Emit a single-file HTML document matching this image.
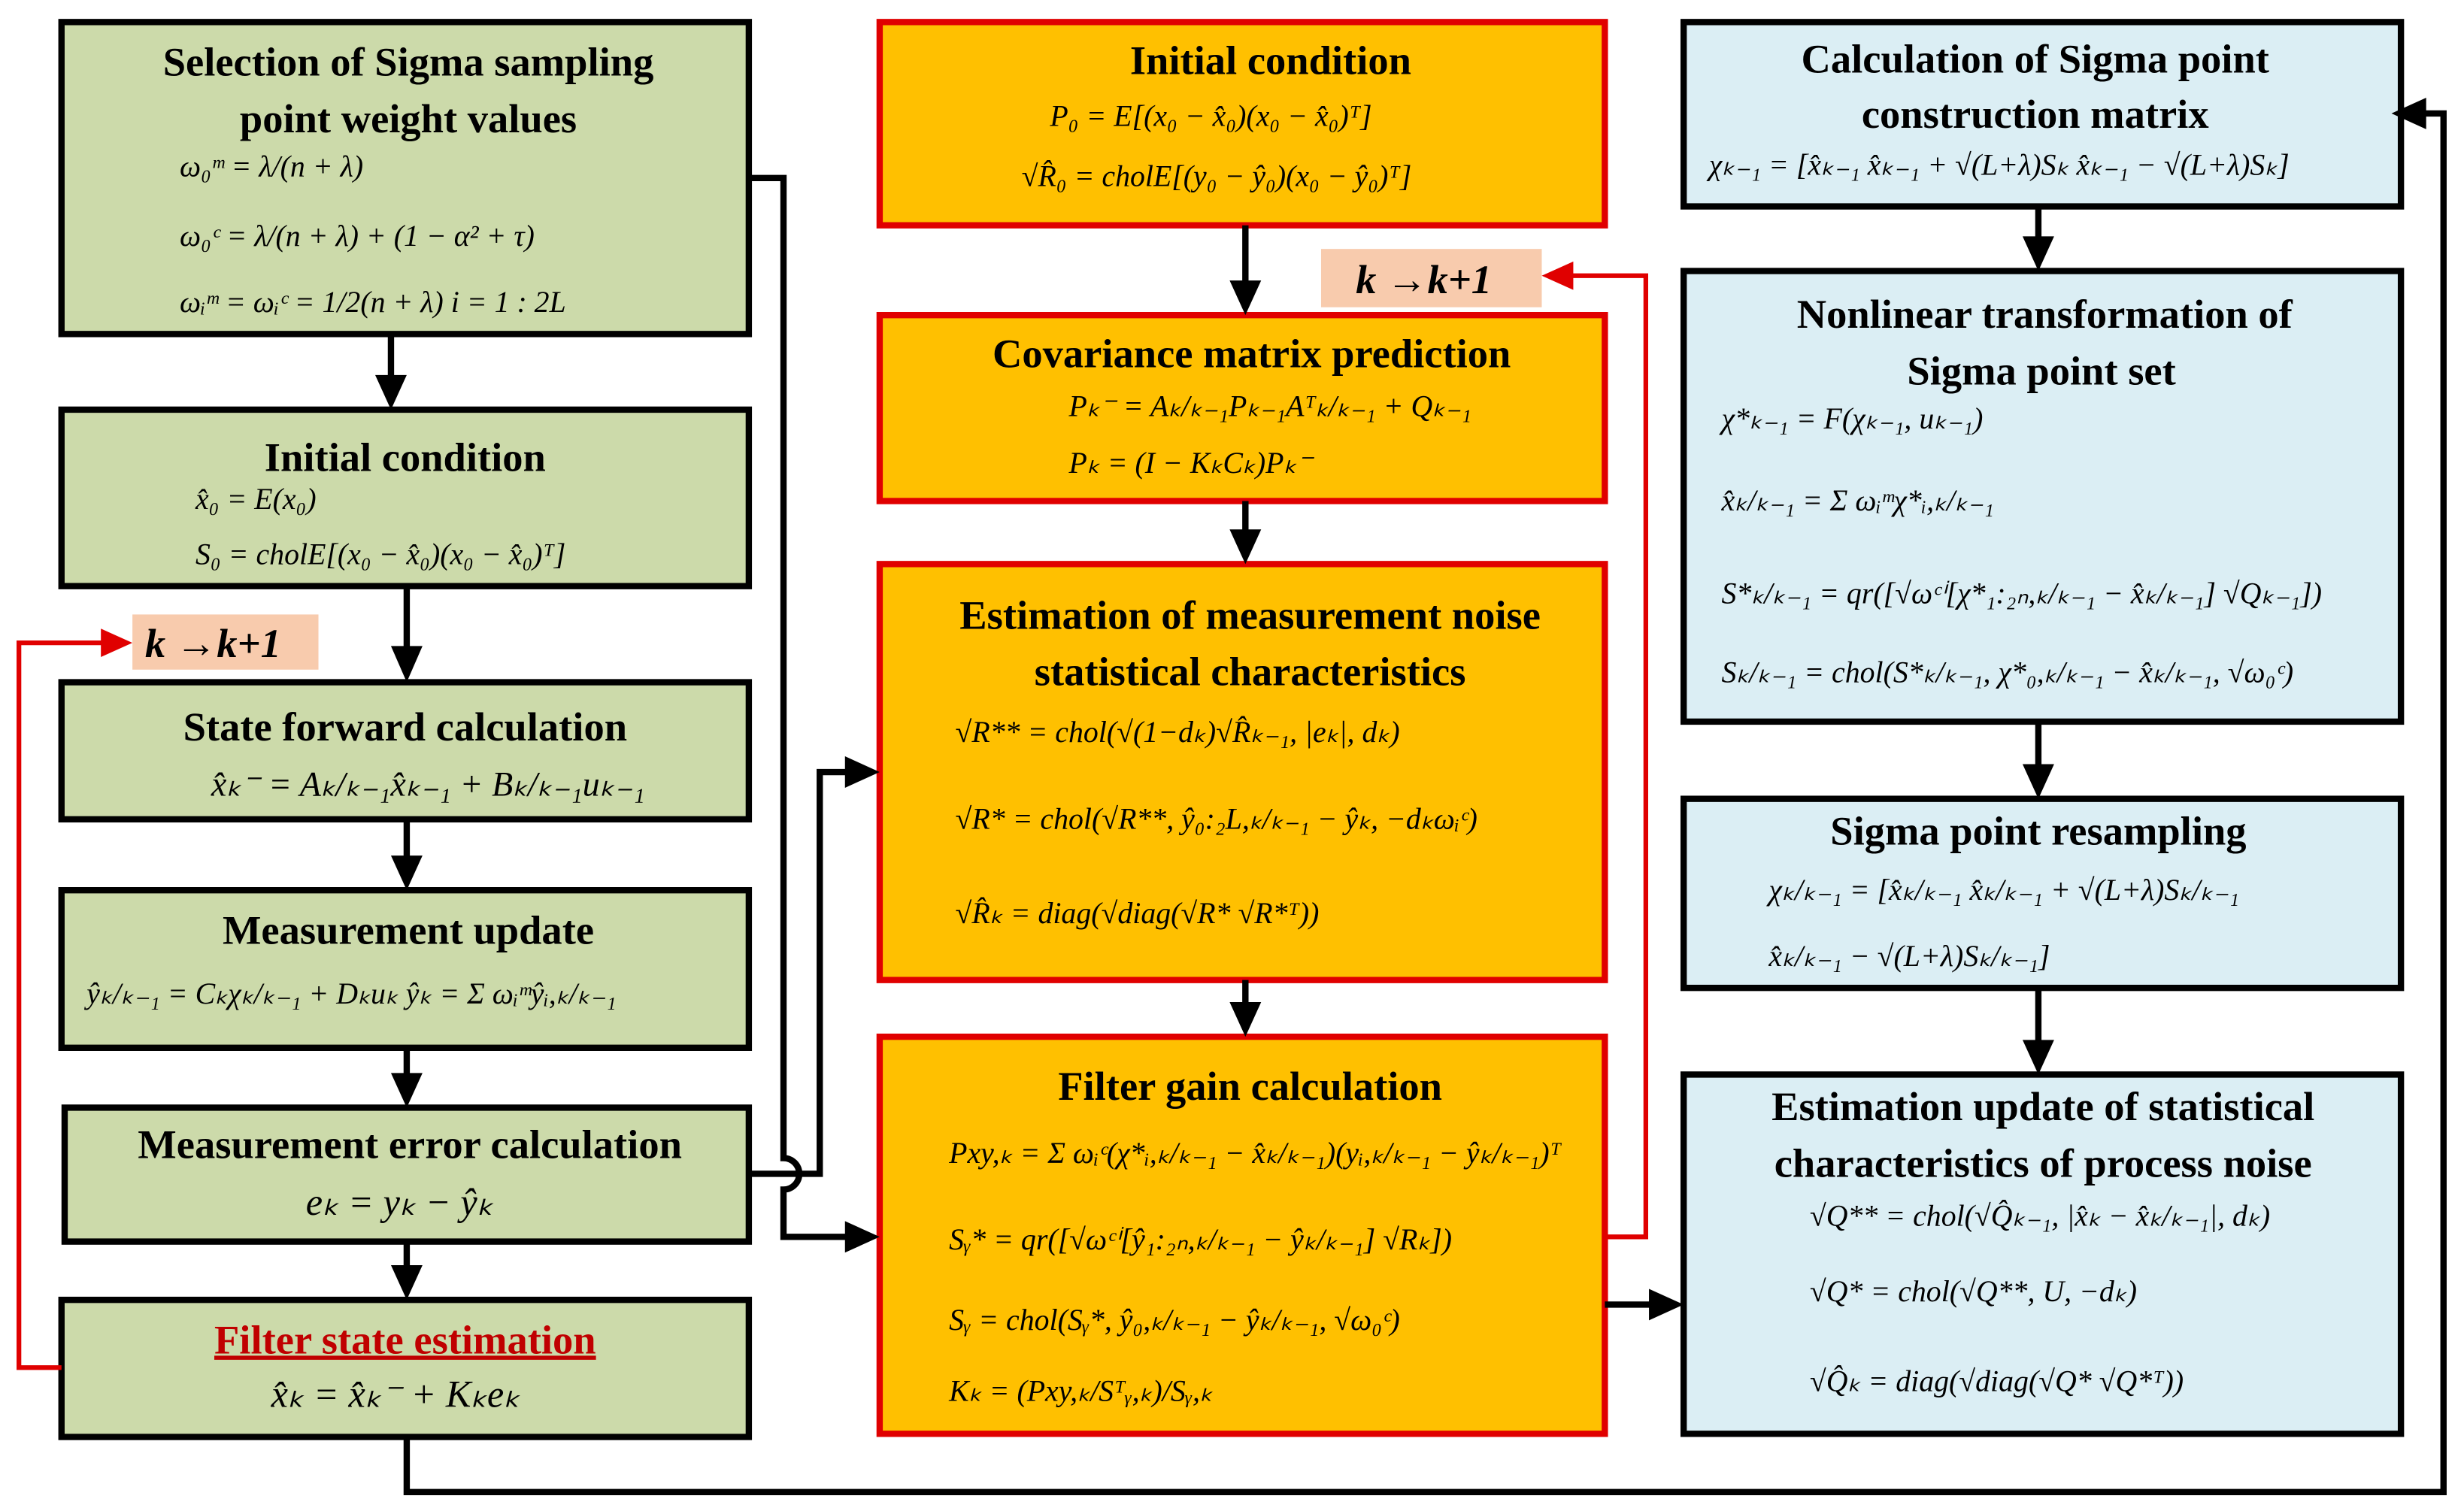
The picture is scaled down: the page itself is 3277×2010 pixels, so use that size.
<!DOCTYPE html>
<html><head><meta charset="utf-8"><style>
html,body{margin:0;padding:0;background:#fff;}
svg{display:block;}
.t{font-family:"Liberation Serif",serif;font-weight:bold;font-size:26px;text-anchor:middle;fill:#000;}
.f{font-family:"Liberation Serif",serif;font-style:italic;font-size:19px;fill:#000;}
.k{font-family:"Liberation Serif",serif;font-style:italic;font-weight:bold;font-size:26px;fill:#000;}
</style></head><body>
<svg width="3277" height="2010" viewBox="0 0 1563 959" preserveAspectRatio="none" xmlns="http://www.w3.org/2000/svg">
<defs>
<marker id="a" markerWidth="8" markerHeight="8" refX="7" refY="4" orient="auto" markerUnits="userSpaceOnUse"><path d="M0,0 L0,0"/></marker>
</defs>
<rect width="1563" height="959" fill="#fff"/>
<g stroke="#000" stroke-width="4" fill="#CCDAAA">
<rect x="39" y="14" width="436" height="198"/>
<rect x="39" y="260" width="436" height="112"/>
<rect x="39" y="433" width="436" height="87"/>
<rect x="39" y="565" width="436" height="100"/>
<rect x="41" y="703" width="434" height="85"/>
<rect x="39" y="825" width="436" height="87"/>
</g>
<g stroke="#E00000" stroke-width="4" fill="#FFC000">
<rect x="558" y="14" width="460" height="129"/>
<rect x="558" y="200" width="460" height="118"/>
<rect x="558" y="358" width="460" height="264"/>
<rect x="558" y="658" width="460" height="252"/>
</g>
<g stroke="#000" stroke-width="4" fill="#DBEEF4">
<rect x="1068" y="14" width="455" height="117"/>
<rect x="1068" y="172" width="455" height="286"/>
<rect x="1068" y="507" width="455" height="120"/>
<rect x="1068" y="682" width="455" height="228"/>
</g>
<rect x="84" y="390" width="118" height="35" fill="#F8CBAD"/>
<rect x="838" y="158" width="140" height="37" fill="#F8CBAD"/>
<text class="k" x="92" y="417">k →k+1</text>
<text class="k" x="860" y="186">k →k+1</text>
<!-- connectors -->
<g stroke="#000" stroke-width="4" fill="none">
<path d="M248,212 V240"/><path d="M258,372 V412"/><path d="M258,520 V545"/><path d="M258,665 V683"/><path d="M258,788 V805"/>
<path d="M790,143 V180"/><path d="M790,318 V340"/><path d="M790,622 V640"/>
<path d="M1293,131 V152"/><path d="M1293,458 V487"/><path d="M1293,627 V662"/>
<path d="M258,912 V947 H1550 V72 H1535"/>
<path d="M475,113 H497 V735 A6,6 0 0 1 497,755 V785 H540"/>
<path d="M475,745 H520 V490 H540"/>
<path d="M1018,828 H1050"/>
</g>
<g stroke="#E00000" stroke-width="3" fill="none">
<path d="M39,868 H12 V408 H66"/>
<path d="M1018,785 H1044 V175 H996"/>
</g>
<g fill="#000">
<path d="M238,238 L258,238 L248,260 Z"/>
<path d="M248,410 L268,410 L258,433 Z"/>
<path d="M248,543 L268,543 L258,565 Z"/>
<path d="M248,681 L268,681 L258,703 Z"/>
<path d="M248,803 L268,803 L258,825 Z"/>
<path d="M780,178 L800,178 L790,200 Z"/>
<path d="M780,336 L800,336 L790,358 Z"/>
<path d="M780,636 L800,636 L790,658 Z"/>
<path d="M1283,150 L1303,150 L1293,172 Z"/>
<path d="M1283,485 L1303,485 L1293,507 Z"/>
<path d="M1283,660 L1303,660 L1293,682 Z"/>
<path d="M1517,72 L1539,62 L1539,82 Z"/>
<path d="M558,785 L536,775 L536,795 Z"/>
<path d="M558,490 L536,480 L536,500 Z"/>
<path d="M1068,828 L1046,818 L1046,838 Z"/>
</g>
<g fill="#E00000">
<path d="M84,408 L64,399 L64,417 Z"/>
<path d="M978,175 L998,166 L998,184 Z"/>
</g>
<!-- left texts -->
<text class="t" x="259" y="48">Selection of Sigma sampling</text>
<text class="t" x="259" y="84">point weight values</text>
<text class="f" x="114" y="112">ω₀ᵐ = λ/(n + λ)</text>
<text class="f" x="114" y="156">ω₀ᶜ = λ/(n + λ) + (1 − α² + τ)</text>
<text class="f" x="114" y="198">ωᵢᵐ = ωᵢᶜ = 1/2(n + λ)     i = 1 : 2L</text>
<text class="t" x="257" y="299">Initial condition</text>
<text class="f" x="124" y="323">x̂₀ = E(x₀)</text>
<text class="f" x="124" y="358">S₀ = cholE[(x₀ − x̂₀)(x₀ − x̂₀)ᵀ]</text>
<text class="t" x="257" y="470">State forward calculation</text>
<text class="f" x="134" y="505" style="font-size:22px">x̂ₖ⁻ = Aₖ/ₖ₋₁x̂ₖ₋₁ + Bₖ/ₖ₋₁uₖ₋₁</text>
<text class="t" x="259" y="599">Measurement update</text>
<text class="f" x="55" y="637">ŷₖ/ₖ₋₁ = Cₖχₖ/ₖ₋₁ + Dₖuₖ      ŷₖ = Σ ωᵢᵐŷᵢ,ₖ/ₖ₋₁</text>
<text class="t" x="260" y="735">Measurement error calculation</text>
<text class="f" x="194" y="771" style="font-size:24px">eₖ = yₖ − ŷₖ</text>
<text class="t" x="257" y="859" fill="#C00000" style="fill:#C00000;text-decoration:underline">Filter state estimation</text>
<text class="f" x="172" y="893" style="font-size:24px">x̂ₖ = x̂ₖ⁻ + Kₖeₖ</text>
<!-- middle texts -->
<text class="t" x="806" y="47">Initial condition</text>
<text class="f" x="666" y="80">P₀ = E[(x₀ − x̂₀)(x₀ − x̂₀)ᵀ]</text>
<text class="f" x="648" y="118">√R̂₀ = cholE[(y₀ − ŷ₀)(x₀ − ŷ₀)ᵀ]</text>
<text class="t" x="794" y="233">Covariance matrix prediction</text>
<text class="f" x="678" y="264">Pₖ⁻ = Aₖ/ₖ₋₁Pₖ₋₁Aᵀₖ/ₖ₋₁ + Qₖ₋₁</text>
<text class="f" x="678" y="300">Pₖ = (I − KₖCₖ)Pₖ⁻</text>
<text class="t" x="793" y="399">Estimation of measurement noise</text>
<text class="t" x="793" y="435">statistical characteristics</text>
<text class="f" x="606" y="471">√R** = chol(√(1−dₖ)√R̂ₖ₋₁, |eₖ|, dₖ)</text>
<text class="f" x="606" y="526">√R* = chol(√R**, ŷ₀:₂L,ₖ/ₖ₋₁ − ŷₖ, −dₖωᵢᶜ)</text>
<text class="f" x="606" y="586">√R̂ₖ = diag(√diag(√R* √R*ᵀ))</text>
<text class="t" x="793" y="698">Filter gain calculation</text>
<text class="f" x="602" y="738">Pxy,ₖ = Σ ωᵢᶜ(χ*ᵢ,ₖ/ₖ₋₁ − x̂ₖ/ₖ₋₁)(yᵢ,ₖ/ₖ₋₁ − ŷₖ/ₖ₋₁)ᵀ</text>
<text class="f" x="602" y="793">Sᵧ* = qr([√ωᶜⁱ[ŷ₁:₂ₙ,ₖ/ₖ₋₁ − ŷₖ/ₖ₋₁]  √Rₖ])</text>
<text class="f" x="602" y="844">Sᵧ = chol(Sᵧ*, ŷ₀,ₖ/ₖ₋₁ − ŷₖ/ₖ₋₁, √ω₀ᶜ)</text>
<text class="f" x="602" y="889">Kₖ = (Pxy,ₖ/Sᵀᵧ,ₖ)/Sᵧ,ₖ</text>
<!-- right texts -->
<text class="t" x="1291" y="46">Calculation of Sigma point</text>
<text class="t" x="1291" y="81">construction matrix</text>
<text class="f" x="1084" y="111">χₖ₋₁ = [x̂ₖ₋₁   x̂ₖ₋₁ + √(L+λ)Sₖ   x̂ₖ₋₁ − √(L+λ)Sₖ]</text>
<text class="t" x="1297" y="208">Nonlinear transformation of</text>
<text class="t" x="1295" y="244">Sigma point set</text>
<text class="f" x="1092" y="272">χ*ₖ₋₁ = F(χₖ₋₁, uₖ₋₁)</text>
<text class="f" x="1092" y="324">x̂ₖ/ₖ₋₁ = Σ ωᵢᵐχ*ᵢ,ₖ/ₖ₋₁</text>
<text class="f" x="1092" y="383">S*ₖ/ₖ₋₁ = qr([√ωᶜⁱ[χ*₁:₂ₙ,ₖ/ₖ₋₁ − x̂ₖ/ₖ₋₁]  √Qₖ₋₁])</text>
<text class="f" x="1092" y="433">Sₖ/ₖ₋₁ = chol(S*ₖ/ₖ₋₁, χ*₀,ₖ/ₖ₋₁ − x̂ₖ/ₖ₋₁, √ω₀ᶜ)</text>
<text class="t" x="1293" y="536">Sigma point resampling</text>
<text class="f" x="1122" y="571">χₖ/ₖ₋₁ = [x̂ₖ/ₖ₋₁    x̂ₖ/ₖ₋₁ + √(L+λ)Sₖ/ₖ₋₁</text>
<text class="f" x="1122" y="613">x̂ₖ/ₖ₋₁ − √(L+λ)Sₖ/ₖ₋₁]</text>
<text class="t" x="1296" y="711">Estimation update of statistical</text>
<text class="t" x="1296" y="747">characteristics of process noise</text>
<text class="f" x="1148" y="778">√Q** = chol(√Q̂ₖ₋₁, |x̂ₖ − x̂ₖ/ₖ₋₁|, dₖ)</text>
<text class="f" x="1148" y="826">√Q* = chol(√Q**, U, −dₖ)</text>
<text class="f" x="1148" y="883">√Q̂ₖ = diag(√diag(√Q* √Q*ᵀ))</text>
</svg>
</body></html>
